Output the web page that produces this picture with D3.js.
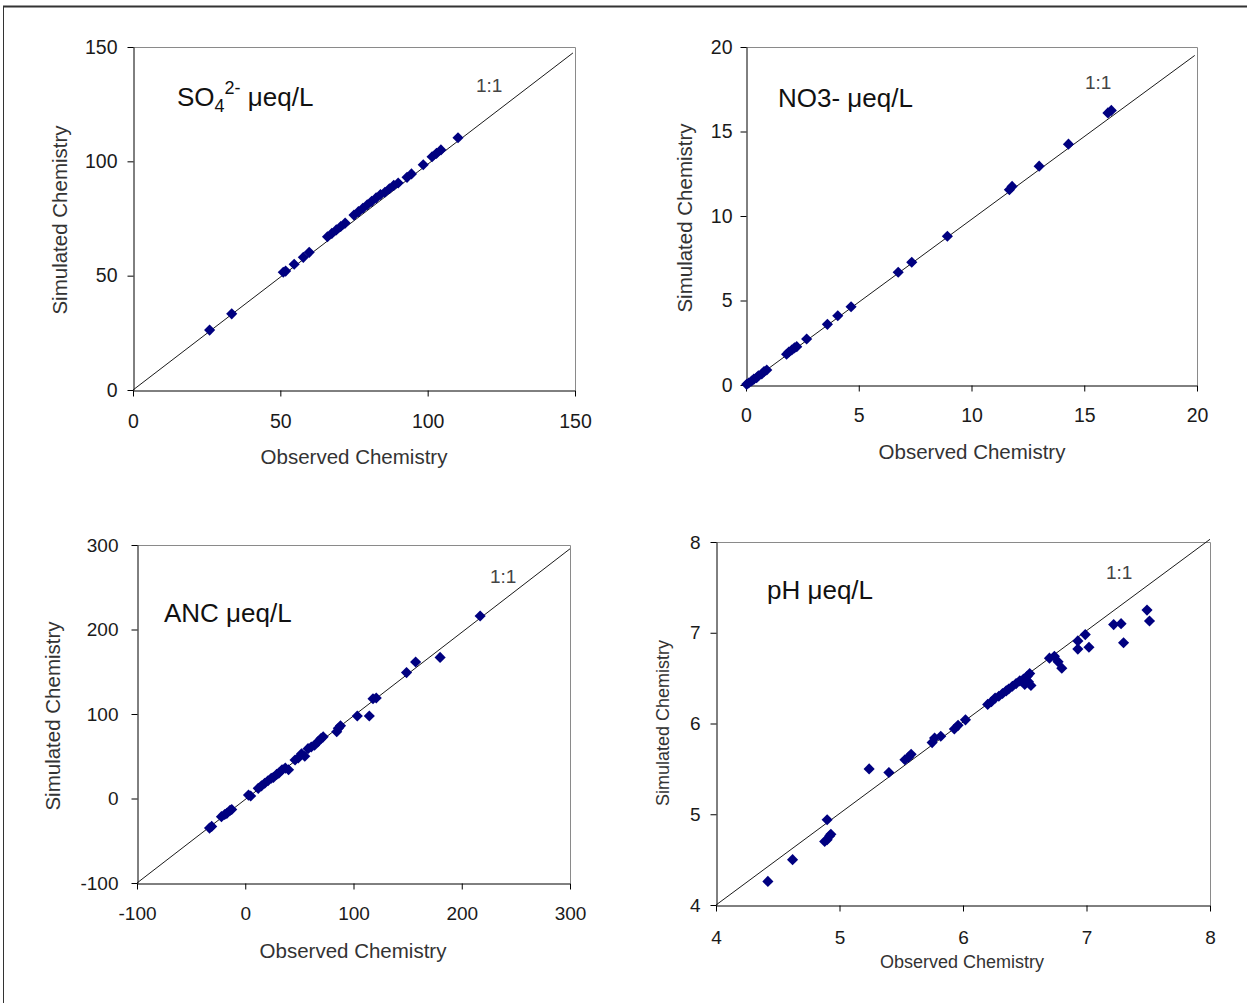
<!DOCTYPE html>
<html>
<head>
<meta charset="utf-8">
<script src="https://cdn.jsdelivr.net/npm/d3@7"></script>
<style>
  html, body { margin: 0; padding: 0; background: #fff; }
  svg { display: block; font-family: "Liberation Sans", Arial, sans-serif; }
</style>
</head>
<body>
<svg id="chart" width="1247" height="1003"></svg>
<script>
// ---------------- DATA ----------------
// SO4 (µeq/L): observed, simulated
const so4Observed  = [26, 33.5, 51, 51.8, 54.7, 57.8, 59.8, 66, 67.5, 69, 70.5, 72, 75, 76.5, 78, 79.5, 81, 82.5, 84, 85.5, 87, 88.5, 90, 93, 94.5, 98.5, 101.5, 103, 104.5, 110.3];
const so4Simulated = [26.2, 33.3, 51.5, 52, 55, 58, 60.2, 67, 68.5, 70, 71.5, 73, 76.5, 78, 79.5, 81, 82.5, 84, 85.5, 86.5, 88, 89.5, 90.5, 93, 94.5, 98.5, 102, 103.5, 105, 110.3];

// NO3 (µeq/L)
const no3Observed  = [0.03, 0.12, 0.25, 0.35, 0.47, 0.55, 0.7, 0.8, 0.92, 1.8, 1.9, 2.03, 2.15, 2.25, 2.69, 3.61, 4.07, 4.66, 6.75, 7.35, 8.93, 11.68, 11.8, 13.0, 14.3, 16.05, 16.2];
const no3Simulated = [0.04, 0.12, 0.24, 0.35, 0.43, 0.55, 0.65, 0.8, 0.89, 1.82, 1.95, 2.07, 2.2, 2.27, 2.72, 3.59, 4.1, 4.63, 6.67, 7.26, 8.8, 11.55, 11.75, 12.95, 14.25, 16.1, 16.25];

// ANC (µeq/L)
const ancObserved  = [-33, -31, -22, -19, -17, -14, -12.5, 3, 5, 12, 15, 18, 21, 24, 26, 29, 31, 34, 37, 40, 46, 49, 52, 55, 58, 61, 64, 67, 70, 72, 84.5, 86, 88, 103.5, 114.6, 118, 121, 149, 157.4, 180, 217];
const ancSimulated = [-35, -33, -21.5, -19, -17.6, -14, -13, 4, 3, 12, 15, 18, 21, 24, 25, 28.5, 30, 34, 36, 34, 45.6, 48, 53, 50, 59, 61, 63, 67, 71, 73, 79, 83, 86, 97.6, 97.6, 118, 119, 149, 161.5, 167, 216];

// pH
const phObserved  = [4.42, 4.62, 4.88, 4.9, 4.92, 4.93, 4.9, 5.24, 5.4, 5.53, 5.56, 5.58, 5.75, 5.77, 5.82, 5.93, 5.96, 6.02, 6.2, 6.23, 6.26, 6.29, 6.32, 6.35, 6.37, 6.4, 6.43, 6.46, 6.49, 6.5, 6.52, 6.54, 6.55, 6.53, 6.7, 6.74, 6.77, 6.8, 6.93, 6.99, 6.93, 7.02, 7.22, 7.28, 7.3, 7.49, 7.51];
const phSimulated = [4.26, 4.5, 4.7, 4.72, 4.76, 4.78, 4.94, 5.5, 5.46, 5.6, 5.63, 5.66, 5.79, 5.84, 5.86, 5.94, 5.98, 6.04, 6.21, 6.24, 6.28, 6.3, 6.33, 6.36, 6.38, 6.41, 6.44, 6.47, 6.49, 6.43, 6.52, 6.55, 6.42, 6.46, 6.72, 6.74, 6.68, 6.61, 6.91, 6.98, 6.82, 6.84, 7.09, 7.1, 6.89, 7.25, 7.13];

// Axis domains & ticks
const so4Domain = [0, 150], so4Ticks = [0, 50, 100, 150];
const no3Domain = [0, 20],  no3Ticks = [0, 5, 10, 15, 20];
const ancDomain = [-100, 300], ancTicks = [-100, 0, 100, 200, 300];
const phDomain = [4, 8], phTicks = [4, 5, 6, 7, 8];

// 1:1 reference line end points (as drawn)
const so4Line = [[0, 0], [149.3, 147.4]];
const no3Line = [[0, 0], [19.9, 19.5]];
const ancLine = [[-100, -100], [300, 295.5]];
const phLine  = [[4, 4], [8, 8.03]];

// Labels
const xAxisTitle = "Observed Chemistry";
const yAxisTitle = "Simulated Chemistry";
const oneToOneLabel = "1:1";

// ---------------- LAYOUT ----------------
const panels = [
  { obs: so4Observed, sim: so4Simulated, domain: so4Domain, ticks: so4Ticks, line: so4Line,
    box: {l: 133, r: 575, t: 47, b: 390}, yPad: 10, xPad: 17.5, tickFont: 19.5,
    xTitle: [354, 464], yTitle: [60, 220], axFont: 20.5,
    title: "so4", titlePos: [177, 106], oneLbl: [476, 92] },
  { obs: no3Observed, sim: no3Simulated, domain: no3Domain, ticks: no3Ticks, line: no3Line,
    box: {l: 746, r: 1197, t: 47, b: 385}, yPad: 8, xPad: 16.5, tickFont: 19.5,
    xTitle: [972, 459], yTitle: [685, 218], axFont: 20.5,
    title: "NO3- μeq/L", titlePos: [778, 107], oneLbl: [1085, 89] },
  { obs: ancObserved, sim: ancSimulated, domain: ancDomain, ticks: ancTicks, line: ancLine,
    box: {l: 137, r: 570, t: 545, b: 883}, yPad: 13, xPad: 17.5, tickFont: 19,
    xTitle: [353, 958], yTitle: [53, 716], axFont: 20.5,
    title: "ANC μeq/L", titlePos: [164, 622], oneLbl: [490, 583] },
  { obs: phObserved, sim: phSimulated, domain: phDomain, ticks: phTicks, line: phLine,
    box: {l: 716, r: 1210, t: 542, b: 905}, yPad: 10, xPad: 19.5, tickFont: 19,
    xTitle: [962, 968], yTitle: [663, 723], axFont: 18,
    title: "pH μeq/L", titlePos: [767, 599], oneLbl: [1106, 579] }
];

const svg = d3.select("#chart");

// outer frame
svg.append("line").attr("x1", 3).attr("x2", 1247).attr("y1", 6.5).attr("y2", 6.5)
  .attr("stroke", "#333").attr("stroke-width", 2);
svg.append("line").attr("x1", 3.5).attr("x2", 3.5).attr("y1", 6).attr("y2", 1003)
  .attr("stroke", "#333").attr("stroke-width", 1);

const diamond = d3.symbol().type(d3.symbolSquare).size(62);
const fmt = d => String(d);

panels.forEach(p => {
  const {l, r, t, b} = p.box;
  const x = d3.scaleLinear().domain(p.domain).range([l, r]);
  const y = d3.scaleLinear().domain(p.domain).range([b, t]);
  const g = svg.append("g");

  // top & right border (gray)
  g.append("path")
    .attr("d", `M${l},${t + 0.5}H${r + 0.5}V${b}`)
    .attr("fill", "none").attr("stroke", "#8a8a8a").attr("stroke-width", 1);

  // axes
  const yAx = g.append("g").attr("transform", `translate(${l + 0.5},0)`)
    .call(d3.axisLeft(y).tickValues(p.ticks).tickSize(6).tickSizeOuter(0).tickPadding(p.yPad).tickFormat(fmt));
  const xAx = g.append("g").attr("transform", `translate(0,${b + 0.5})`)
    .call(d3.axisBottom(x).tickValues(p.ticks).tickSize(6).tickSizeOuter(0).tickPadding(p.xPad).tickFormat(fmt));
  [yAx, xAx].forEach(a => {
    a.select(".domain").attr("stroke", "#000");
    a.selectAll(".tick line").attr("stroke", "#000");
    a.selectAll(".tick text").attr("fill", "#1a1a1a")
      .style("font-size", p.tickFont + "px")
      .style("font-family", '"Liberation Sans", Arial, sans-serif');
  });

  // 1:1 line
  g.append("line")
    .attr("x1", x(p.line[0][0])).attr("y1", y(p.line[0][1]))
    .attr("x2", x(p.line[1][0])).attr("y2", y(p.line[1][1]))
    .attr("stroke", "#1a1a1a").attr("stroke-width", 1);

  // points
  g.append("g").selectAll("path")
    .data(p.obs.map((o, i) => [o, p.sim[i]]))
    .join("path")
    .attr("d", diamond)
    .attr("transform", d => `translate(${x(d[0])},${y(d[1])}) rotate(45)`)
    .attr("fill", "#000080");

  // axis titles
  g.append("text").attr("x", p.xTitle[0]).attr("y", p.xTitle[1])
    .attr("text-anchor", "middle").attr("fill", "#333")
    .style("font-size", p.axFont + "px").text(xAxisTitle);
  g.append("text")
    .attr("transform", `translate(${p.yTitle[0]},${p.yTitle[1]}) rotate(-90)`)
    .attr("text-anchor", "middle").attr("dy", "0.35em").attr("fill", "#333")
    .style("font-size", p.axFont + "px").text(yAxisTitle);

  // 1:1 label
  g.append("text").attr("x", p.oneLbl[0]).attr("y", p.oneLbl[1])
    .attr("fill", "#444").style("font-size", "19px").text(oneToOneLabel);

  // panel title
  const tt = g.append("text").attr("x", p.titlePos[0]).attr("y", p.titlePos[1])
    .attr("fill", "#111").style("font-size", "26px");
  if (p.title === "so4") {
    tt.append("tspan").text("SO");
    tt.append("tspan").attr("dy", 6).style("font-size", "18px").text("4");
    tt.append("tspan").attr("dy", -18).style("font-size", "18px").text("2-");
    tt.append("tspan").attr("dy", 12).text(" μeq/L");
  } else {
    tt.text(p.title);
  }
});
</script>
</body>
</html>
